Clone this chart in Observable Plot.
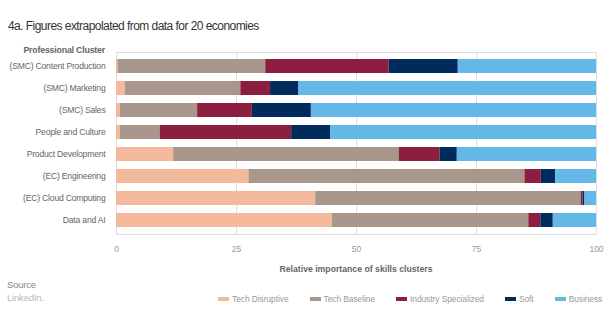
<!DOCTYPE html>
<html>
<head>
<meta charset="utf-8">
<script src="https://cdn.jsdelivr.net/npm/d3@7"></script>
<script src="https://cdn.jsdelivr.net/npm/@observablehq/plot@0.6"></script>
<style>
  html, body { margin: 0; padding: 0; background: #fff; }
  body { width: 614px; height: 329px; position: relative; overflow: hidden; font-family: "Liberation Sans", Arial, sans-serif; }
  #title { position: absolute; left: 8px; top: 19px; font-size: 12px; color: #333; letter-spacing: -0.55px; }
  #ylab { position: absolute; right: 509px; top: 45px; font-size: 8.8px; font-weight: bold; color: #666; white-space: nowrap; letter-spacing: -0.2px; }
  #chart { position: absolute; left: 0; top: 0; }
  #chart g[aria-label="y-axis tick label"] text { letter-spacing: -0.2px; }
  #xlab { position: absolute; left: 256px; width: 200px; top: 264px; text-align: center; font-size: 8.7px; font-weight: bold; color: #666; white-space: nowrap; }
  #source { position: absolute; left: 7px; top: 279px; font-size: 9.5px; color: #888; line-height: 12.7px; letter-spacing: -0.2px; }
  #source .s2 { color: #bbb; }
  #legend { position: absolute; left: 218px; top: 294px; display: flex; gap: 21px; font-size: 8.4px; color: #999; letter-spacing: -0.05px; }
  #legend .item { display: flex; align-items: center; gap: 3px; white-space: nowrap; }
  #legend .sw { width: 11px; height: 4px; display: inline-block; }
</style>
</head>
<body>
<div id="title">4a. Figures extrapolated from data for 20 economies</div>
<div id="ylab">Professional Cluster</div>
<div id="chart"></div>
<div id="xlab">Relative importance of skills clusters</div>
<div id="source">Source<br><span class="s2">LinkedIn.</span></div>
<div id="legend"></div>
<script>
const categories = [
  "(SMC) Content Production",
  "(SMC) Marketing",
  "(SMC) Sales",
  "People and Culture",
  "Product Development",
  "(EC) Engineering",
  "(EC) Cloud Computing",
  "Data and AI"
];
const seriesNames = ["Tech Disruptive", "Tech Baseline", "Industry Specialized", "Soft", "Business"];
const seriesColors = ["#f4b99b", "#aa978c", "#8c1e3f", "#002b5b", "#63b8e8"];

const techDisruptive     = [0.3, 1.8, 0.8, 0.8, 11.9, 27.6, 41.5, 45.0];
const techBaseline       = [30.8, 24.1, 16.1, 8.3, 47.0, 57.5, 55.3, 40.9];
const industrySpecialized= [25.7, 6.2, 11.4, 27.4, 8.5, 3.4, 0.4, 2.5];
const soft               = [14.4, 5.9, 12.3, 8.1, 3.6, 3.0, 0.4, 2.6];
const business           = [28.8, 62.0, 59.4, 55.4, 29.0, 8.5, 2.4, 9.0];

const seriesValues = [techDisruptive, techBaseline, industrySpecialized, soft, business];
const xTicks = [0, 25, 50, 75, 100];

const rows = [];
seriesNames.forEach((s, si) => {
  categories.forEach((c, ci) => {
    rows.push({category: c, series: s, value: seriesValues[si][ci]});
  });
});

const chart = Plot.plot({
  width: 614,
  height: 329,
  marginTop: 52,
  marginBottom: 95,
  marginLeft: 116,
  marginRight: 18,
  style: {fontFamily: "Liberation Sans, Arial, sans-serif", background: "transparent"},
  x: {domain: [0, 100], ticks: xTicks, label: null},
  y: {domain: categories, paddingInner: 0.37, paddingOuter: 0.3, label: null},
  color: {domain: seriesNames, range: seriesColors},
  marks: [
    Plot.ruleX(xTicks, {stroke: "#dcdcdc", strokeWidth: 1}),
    Plot.frame({stroke: "#dcdcdc", strokeWidth: 1}),
    Plot.barX(rows, Plot.stackX({x: "value", y: "category", fill: "series", order: seriesNames})),
    Plot.axisX({ticks: xTicks, tickSize: 0, tickPadding: 11, fontSize: 8.5, fill: "#999", label: null}),
    Plot.axisY({tickSize: 0, tickPadding: 11, fontSize: 8.6, fill: "#666", label: null})
  ]
});
document.getElementById("chart").appendChild(chart);

const legend = document.getElementById("legend");
seriesNames.forEach((s, i) => {
  const item = document.createElement("div");
  item.className = "item";
  const sw = document.createElement("span");
  sw.className = "sw";
  sw.style.background = seriesColors[i];
  const t = document.createElement("span");
  t.textContent = s;
  item.appendChild(sw);
  item.appendChild(t);
  legend.appendChild(item);
});
</script>
</body>
</html>
